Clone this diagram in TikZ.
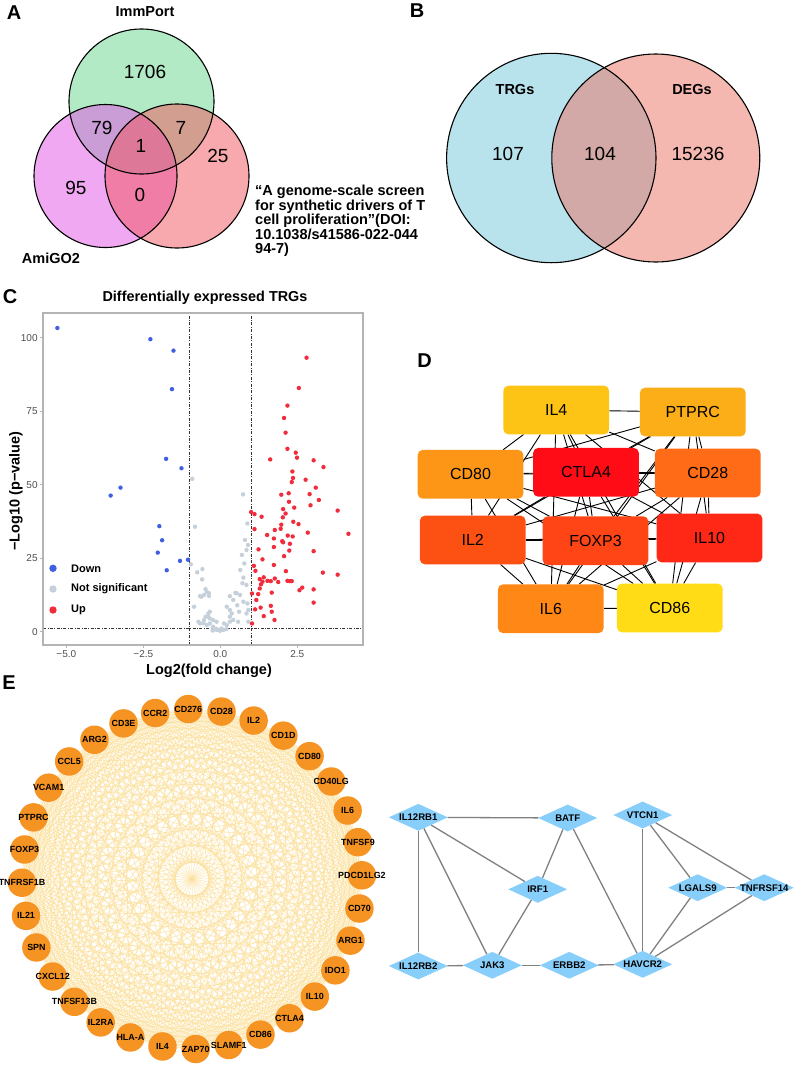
\documentclass[tikz,border=0pt]{standalone}
\usepackage{fontspec}
\setmainfont{Liberation Sans}
\usetikzlibrary{positioning,shapes.geometric,backgrounds}

\definecolor{immgreen}{RGB}{104,213,142}
\definecolor{amimagenta}{RGB}{225,81,231}
\definecolor{screenpink}{RGB}{241,83,91}
\definecolor{trgblue}{RGB}{115,199,217}
\definecolor{degsalmon}{RGB}{235,113,97}
\definecolor{downblue}{RGB}{65,95,225}
\definecolor{nsgrey}{RGB}{197,208,218}
\definecolor{upred}{RGB}{240,45,60}
\definecolor{framegrey}{RGB}{180,180,180}
\definecolor{tickgrey}{RGB}{77,77,77}
\definecolor{ringorange}{RGB}{245,148,35}
\definecolor{webyellow}{RGB}{251,222,150}
\definecolor{tfblue}{RGB}{135,206,250}
\definecolor{tfedge}{RGB}{128,128,128}
\definecolor{cIL4}{RGB}{253,195,21}
\definecolor{cPTPRC}{RGB}{251,174,23}
\definecolor{cCD80}{RGB}{253,150,23}
\definecolor{cCTLA4}{RGB}{255,12,22}
\definecolor{cCD28}{RGB}{255,107,22}
\definecolor{cIL2}{RGB}{253,81,20}
\definecolor{cFOXP3}{RGB}{255,69,21}
\definecolor{cIL10}{RGB}{255,39,22}
\definecolor{cIL6}{RGB}{254,135,22}
\definecolor{cCD86}{RGB}{255,220,21}

\tikzset{
	panel/.style={font=\fontsize{20}{20}\selectfont\bfseries},
	vennnum/.style={font=\fontsize{19}{19}\selectfont},
	vennname/.style={font=\fontsize{14.5}{14.5}\selectfont\bfseries},
	vennline/.style={draw=black, line width=1.1pt},
	cite/.style={align=left, inner sep=0pt, font=\fontsize{14.5}{14.4}\selectfont\bfseries},
	plottitle/.style={font=\fontsize{14.4}{14.4}\selectfont\bfseries},
	ticktext/.style={text=tickgrey, font=\fontsize{10}{10}\selectfont, inner sep=2pt},
	legtext/.style={font=\fontsize{11}{11}\selectfont\bfseries, anchor=west, inner sep=0pt},
	cutline/.style={draw=black!80, line width=0.6pt, dash pattern=on 3pt off 1.5pt on 0.8pt off 1.5pt},
	hubbox/.style={rounded corners=5pt, minimum width=105.7pt, minimum height=48.7pt, inner sep=0pt, font=\fontsize{16}{16}\selectfont},
	hubedge/.style={draw=black, line width=0.9pt},
	ringnode/.style={circle, fill=ringorange, minimum size=28.5pt, inner sep=0pt},
	ringtext/.style={font=\fontsize{8.9}{8.9}\selectfont\bfseries},
	webline/.style={draw=webyellow, draw opacity=0.6, line width=0.8pt},
	tfnode/.style={diamond, fill=tfblue, minimum width=59pt, minimum height=27pt, inner sep=0pt},
	tftext/.style={font=\fontsize{9.6}{9.6}\selectfont\bfseries},
	tflink/.style={draw=tfedge, line width=1.3pt}
}

\begin{document}
\begin{tikzpicture}[x=1pt, y=-1pt]
	\useasboundingbox (0,0) rectangle (796,1066);

	% A
	\draw (14,13) node[panel] (labA) {A};
	\fill[immgreen, fill opacity=0.5] (141.5,101.5) circle[radius=72.5];
	\fill[amimagenta, fill opacity=0.5] (105.5,176) circle[radius=71.5];
	\fill[screenpink, fill opacity=0.5] (177,176) circle[radius=72];
	\draw[vennline] (141.5,101.5) circle[radius=72.5];
	\draw[vennline] (105.5,176) circle[radius=71.5];
	\draw[vennline] (177,176) circle[radius=72];
	\draw (145,12) node[vennname] (imm) {ImmPort};
	\draw (51,258) node[vennname] (ami) {AmiGO2};
	\draw (255,221) node[cite, anchor=west] (scr) {“A genome-scale screen\\for synthetic drivers of T\\cell proliferation”(DOI:\\10.1038/s41586-022-044\\94-7)};
	\draw (145,72) node[vennnum] {1706};
	\draw (102,128) node[vennnum] {79};
	\draw (181,128) node[vennnum] {7};
	\draw (141,146) node[vennnum] {1};
	\draw (218,156) node[vennnum] {25};
	\draw (76,188) node[vennnum] {95};
	\draw (140,195) node[vennnum] {0};

	% B
	\draw (417,11) node[panel] (labB) {B};
	\fill[trgblue, fill opacity=0.5] (551.3,158) circle[radius=104.7];
	\fill[degsalmon, fill opacity=0.5] (655.8,158) circle[radius=104];
	\draw[vennline] (551.3,158) circle[radius=104.7];
	\draw[vennline] (655.8,158) circle[radius=104];
	\draw (515,90) node[vennname] (trg) {TRGs};
	\draw (692,90) node[vennname] (deg) {DEGs};
	\draw (508,154) node[vennnum] {107};
	\draw (600,154) node[vennnum] {104};
	\draw (698,154) node[vennnum] {15236};

	% C
	\draw (10,297) node[panel] (labC) {C};
	\draw (205,298) node[plottitle] (ctitle) {Differentially expressed TRGs};
	\draw (16,491) node[vennname, rotate=90] (ylab) {−Log10 (p−value)};
	\draw (209,671) node[vennname] (xlab) {Log2(fold change)};
	\begin{scope}[shift={(220.3,631.7)}, x=30.8pt, y=2.94pt]
		\fill[white] (-5.756,-4.52) rectangle (4.633,108.4);
		\foreach \v in {0,25,50,75,100}
			\draw[framegrey, line width=0.8pt] (-5.756,\v) -- ++(-3pt,0) node[ticktext, left] {\v};
		\foreach \v/\t in {-5/−5.0,-2.5/−2.5,0/0.0,2.5/2.5}
			\draw[framegrey, line width=0.8pt] (\v,-4.52) -- ++(0,-3pt) node[ticktext, below] {\t};
		\draw[cutline] (-1,-4.52) -- (-1,108.4);
		\draw[cutline] (1,-4.52) -- (1,108.4);
		\draw[cutline] (-5.756,1.3) -- (4.633,1.3);
		\foreach \px/\py in {-0.91/52.0,-0.82/35.7,0.74/46.7,-0.96/22.9,-0.75/20.2,-0.58/21.3,-0.59/17.8,-0.61/11.9,
			-0.48/14.5,-0.44/13.5,-0.37/12.2,0.80/31.2,0.85/27.8,0.70/26.1,0.78/23.2,0.65/21.0,0.75/18.4,0.85/15.9,
			0.49/13.2,0.31/12.1,0.42/10.8,0.21/8.5,0.61/6.8,0.31/5.1,0.42/4.0,0.12/2.8,0.04/1.1,-0.12/0.9,-0.23/1.7,
			-0.34/2.8,-0.39/5.1,-0.34/6.8,-0.53/4.0,-0.66/2.8,-0.06/0.6,0.88/9.6,0.91/7.4,0.88/36.8,-0.66/12.1,
			-0.53/12.5,-0.37/13.1,-0.39/6.2,-0.48/5.1,-0.34/4.5,-0.23/3.9,-0.12/3.4,-0.01/0.3,0.10/0.6,-0.12/0.6,
			-0.23/1.2,-0.44/2.3,-0.55/2.9,-0.71/3.4,0.21/2.3,0.31/3.4,0.37/6.2,0.53/13.1,0.64/12.5,0.75/10.2,
			0.85/6.2,0.91/3.4,0.31/7.4,0.58/3.4,-0.25/0.4,0.2/0.9,0.9/29.5,0.72/16.5,0.55/9.0,-0.85/8.5}
			\fill[nsgrey] (\px,\py) circle[radius=2.2pt];
		\foreach \px/\py in {-5.29/103.3,-2.27/99.5,-1.52/95.6,-1.57/82.5,-1.76/58.8,-1.26/55.6,-3.24/49.0,
			-3.56/46.3,-1.98/35.9,-1.89/31.1,-2.03/26.9,-1.31/24.1,-1.05/24.5,-1.74/20.9}
			\fill[downblue] (\px,\py) circle[radius=2.2pt];
		\foreach \px/\py in {2.80/93.2,2.55/82.9,2.18/76.9,2.07/72.7,2.12/67.7,2.18/62.2,1.62/58.6,2.45/60.9,
			2.49/59.2,3.03/58.3,3.35/56.0,2.34/54.5,2.36/52.3,2.32/50.9,2.77/51.7,3.10/49.0,2.90/46.8,1.98/46.6,
			2.22/47.1,3.20/44.8,2.23/44.2,2.93/43.0,2.04/41.7,2.40/42.2,2.12/40.2,2.03/38.9,3.81/41.2,1.00/40.7,
			1.11/40.0,1.34/39.1,2.37/37.4,2.54/36.6,1.98/36.4,1.96/35.0,1.11/34.9,1.52/32.9,1.77/34.6,2.19/32.7,
			2.35/32.4,2.84/33.7,4.16/33.3,1.74/31.7,2.01/30.8,2.04/30.4,2.26/29.9,1.74/28.8,1.24/28.0,2.24/27.6,
			3.03/27.4,2.07/25.7,1.37/24.6,1.09/22.4,1.74/22.7,1.14/20.7,2.13/20.6,3.33/20.1,3.81/19.4,1.41/18.5,
			1.28/17.9,1.77/18.1,1.53/17.3,1.64/17.2,1.37/17.0,2.18/17.3,2.26/17.2,2.32/17.2,1.88/16.9,1.32/16.1,
			2.66/15.0,2.57/14.1,3.03/14.4,1.03/13.0,1.28/14.7,1.67/13.3,1.23/12.8,1.17/10.8,1.31/8.2,1.64/8.8,
			3.03/9.9,1.13/7.6,1.67/6.8,1.41/5.3,1.76/4.0,1.03/2.8}
			\fill[upred] (\px,\py) circle[radius=2.2pt];
		\draw[framegrey, line width=1.1pt] (-5.756,-4.52) rectangle (4.633,108.4);
	\end{scope}
	\fill[downblue] (53,568.3) circle[radius=3.7];
	\fill[nsgrey] (53,589) circle[radius=3.7];
	\fill[upred] (53,610) circle[radius=3.7];
	\draw (71,568.3) node[legtext] (legdown) {Down};
	\draw (71,589) node[legtext] (legns) {Not significant};
	\draw (71,610) node[legtext] (legup) {Up};

	% D
	\draw (424.5,360.5) node[panel] (labD) {D};
	\draw (556.2,410) node[hubbox, fill=cIL4] (hubIL4) {IL4};
	\draw (692.8,412) node[hubbox, fill=cPTPRC] (hubPTPRC) {PTPRC};
	\draw (470.5,474.3) node[hubbox, fill=cCD80] (hubCD80) {CD80};
	\draw (586,472.3) node[hubbox, fill=cCTLA4] (hubCTLA4) {CTLA4};
	\draw (707.8,473) node[hubbox, fill=cCD28] (hubCD28) {CD28};
	\draw (472.7,540) node[hubbox, fill=cIL2] (hubIL2) {IL2};
	\draw (595.5,540.7) node[hubbox, fill=cFOXP3] (hubFOXP3) {FOXP3};
	\draw (709.5,538) node[hubbox, fill=cIL10] (hubIL10) {IL10};
	\draw (550.8,608.7) node[hubbox, fill=cIL6] (hubIL6) {IL6};
	\draw (669.8,608) node[hubbox, fill=cCD86] (hubCD86) {CD86};
	\begin{scope}[on background layer]
		\foreach \a [count=\i] in {IL4,PTPRC,CD80,CTLA4,CD28,IL2,FOXP3,IL10,IL6,CD86}
			\foreach \b [count=\j] in {IL4,PTPRC,CD80,CTLA4,CD28,IL2,FOXP3,IL10,IL6,CD86}
				{\ifnum\j>\i \draw[hubedge] (hub\a) -- (hub\b); \fi}
	\end{scope}

	% E
	\draw (9,683) node[panel] (labE) {E};
	\begin{scope}[shift={(192,879)}, y=1pt]
		\foreach \g [count=\i from 0] in {CD276,CD28,IL2,CD1D,CD80,CD40LG,IL6,TNFSF9,PDCD1LG2,CD70,ARG1,IDO1,IL10,CTLA4,CD86,SLAMF1,
			ZAP70,IL4,HLA-A,IL2RA,TNFSF13B,CXCL12,SPN,IL21,TNFRSF1B,FOXP3,PTPRC,VCAM1,CCL5,ARG2,CD3E,CCR2}
			\draw (91.25-11.25*\i:170) node[ringnode, label={[ringtext]center:\g}] (ring\i) {};
	\end{scope}
	\begin{scope}[on background layer]
		\foreach \i in {0,...,30} {
			\pgfmathtruncatemacro\k{\i+1}
			\foreach \j in {\k,...,31}
				\draw[webline] (ring\i) -- (ring\j);
		}
	\end{scope}

	\draw (418.3,817.3) node[tfnode, label={[tftext]center:IL12RB1}] (IL12RB1) {};
	\draw (567.7,818) node[tfnode, label={[tftext]center:BATF}] (BATF) {};
	\draw (642.7,815) node[tfnode, label={[tftext]center:VTCN1}] (VTCN1) {};
	\draw (537.7,889.3) node[tfnode, label={[tftext]center:IRF1}] (IRF1) {};
	\draw (697.7,887.7) node[tfnode, label={[tftext]center:LGALS9}] (LGALS9) {};
	\draw (764.3,887.7) node[tfnode, label={[tftext]center:TNFRSF14}] (TNFRSF14) {};
	\draw (418.3,966) node[tfnode, label={[tftext]center:IL12RB2}] (IL12RB2) {};
	\draw (492.3,965.3) node[tfnode, label={[tftext]center:JAK3}] (JAK3) {};
	\draw (569.3,965.3) node[tfnode, label={[tftext]center:ERBB2}] (ERBB2) {};
	\draw (642.7,964.3) node[tfnode, label={[tftext]center:HAVCR2}] (HAVCR2) {};

	\path[tflink]
		(IL12RB1) edge (BATF)
		          edge (IRF1)
		          edge (JAK3)
		          edge (IL12RB2)
		(BATF)    edge (IRF1)
		          edge (HAVCR2)
		(IRF1)    edge (JAK3)
		(IL12RB2) edge (JAK3)
		(JAK3)    edge (ERBB2)
		(ERBB2)   edge (HAVCR2)
		(VTCN1)   edge (HAVCR2)
		          edge (LGALS9)
		          edge (TNFRSF14)
		(LGALS9)  edge (TNFRSF14)
		          edge (HAVCR2)
		(TNFRSF14) edge (HAVCR2);
\end{tikzpicture}
\end{document}
